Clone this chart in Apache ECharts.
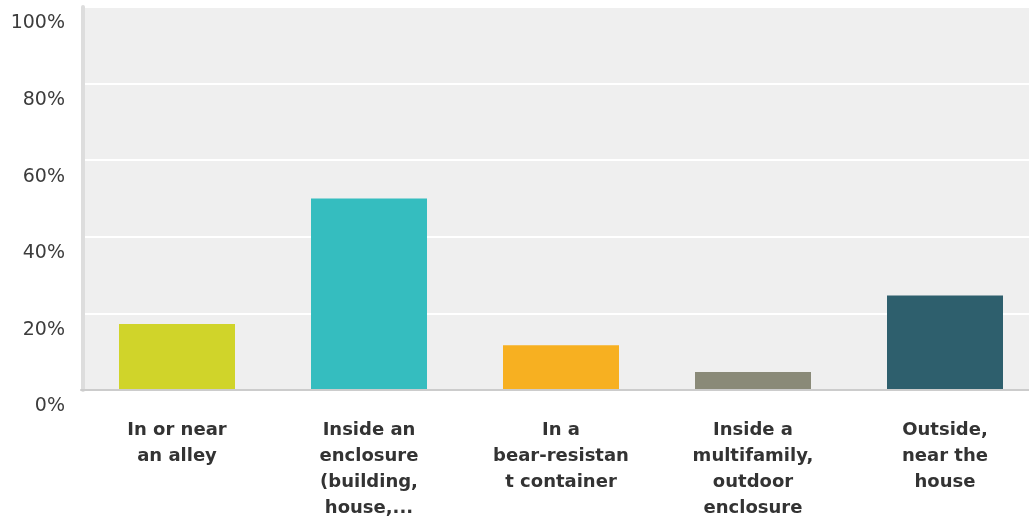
<!DOCTYPE html>
<html>
<head>
<meta charset="utf-8">
<script src="https://cdn.jsdelivr.net/npm/echarts@6/dist/echarts.min.js"></script>
<style>
html,body{margin:0;padding:0;background:#fff;overflow:hidden;}
#chart{width:1029px;height:518px;}
</style>
</head>
<body>
<div id="chart"></div>
<script>
const categories = [
  "In or near\nan alley",
  "Inside an\nenclosure\n(building,\nhouse,...",
  "In a\nbear-resistan\nt container",
  "Inside a\nmultifamily,\noutdoor\nenclosure",
  "Outside,\nnear the\nhouse"
];
const values = [17.2, 50.0, 11.7, 4.7, 24.7];
const barColors = ["#d0d42a", "#35bdbf", "#f7b021", "#8a8a78", "#2e5f6d"];
const yTicks = [0, 20, 40, 60, 80, 100];

const chart = echarts.init(document.getElementById('chart'), null, {renderer: 'canvas'});
chart.setOption({
  animation: false,
  grid: {
    left: 81, top: 7, width: 960, height: 383,
    outerBoundsMode: 'none',
    containLabel: false,
    show: true, backgroundColor: '#efefef', borderWidth: 0
  },
  xAxis: {
    type: 'category',
    data: categories,
    axisLine: {show: true, lineStyle: {color: '#cccccc', width: 2}},
    axisTick: {show: false},
    axisLabel: {
      interval: 0,
      margin: 27,
      fontFamily: 'DejaVu Sans',
      fontWeight: 'bold',
      fontSize: 18,
      lineHeight: 26,
      color: '#333333',
      align: 'center'
    },
    z: 5
  },
  yAxis: {
    type: 'value',
    min: yTicks[0],
    max: yTicks[yTicks.length - 1],
    interval: 20,
    offset: -2,
    axisLine: {show: true, lineStyle: {color: '#dddddd', width: 4}},
    axisTick: {show: false},
    splitLine: {show: true, lineStyle: {color: '#ffffff', width: 2}},
    axisLabel: {
      margin: 18,
      formatter: v => v + '%',
      fontFamily: 'DejaVu Sans',
      fontSize: 19,
      color: '#3c3c3c',
      verticalAlign: 'top',
      padding: [7, 0, 0, 0]
    }
  },
  series: [{
    type: 'bar',
    data: values.map((v, i) => ({value: v, itemStyle: {color: barColors[i]}})),
    barWidth: 116,
    z: 3
  }]
});
</script>
</body>
</html>
